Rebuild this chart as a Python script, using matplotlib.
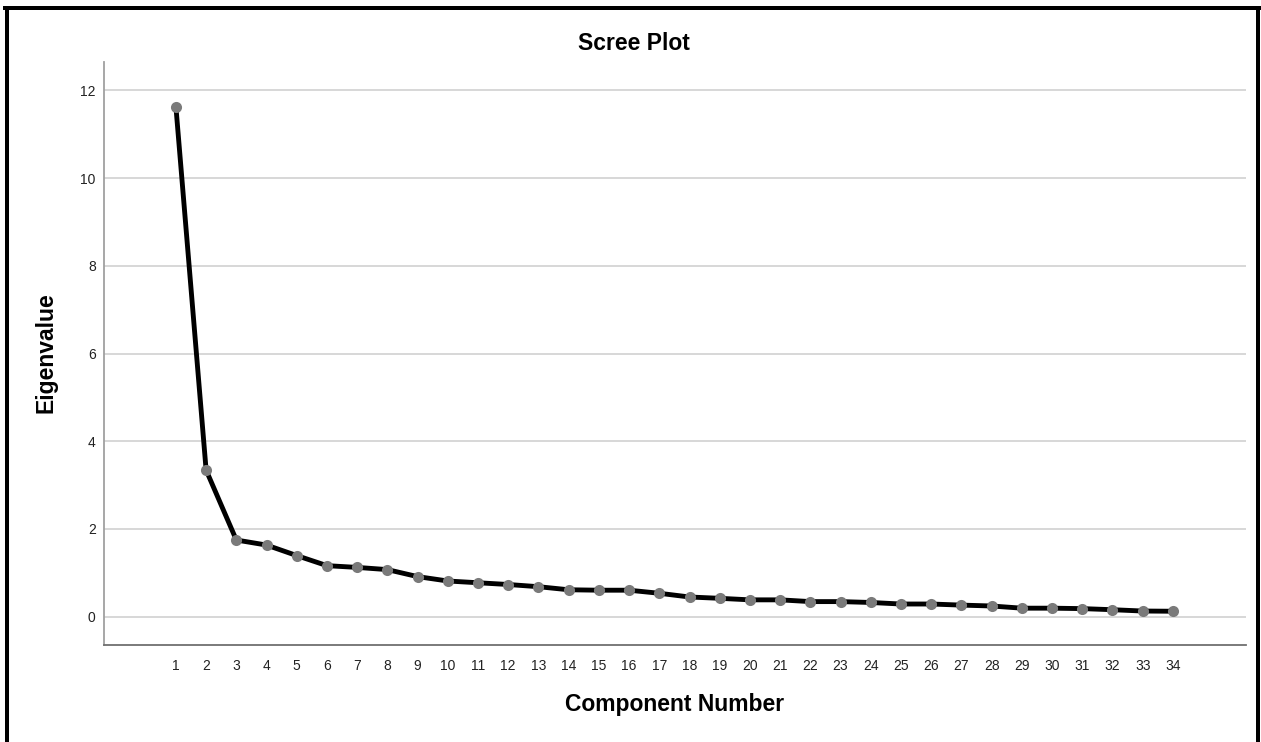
import numpy as np
import matplotlib
matplotlib.use('Agg')
import matplotlib.pyplot as plt
from matplotlib.lines import Line2D

plt.rcParams['font.family'] = ['Liberation Sans', 'DejaVu Sans']

# eigenvalues
component = list(range(1, 35))
eigenvalue = [11.63, 3.34, 1.745, 1.63, 1.39, 1.16, 1.12, 1.07, 0.91, 0.81,
              0.77, 0.73, 0.68, 0.61, 0.60, 0.60, 0.53, 0.445, 0.415, 0.38,
              0.38, 0.34, 0.34, 0.32, 0.285, 0.285, 0.26, 0.24, 0.19, 0.19,
              0.18, 0.155, 0.125, 0.12]
yticks = [0, 2, 4, 6, 8, 10, 12]

W, H = 1261, 742
fig = plt.figure(figsize=(W / 100, H / 100), dpi=100)
fig.patch.set_facecolor('white')
ax = fig.add_axes([104 / W, 1 - 645 / H, (1246 - 104) / W, (645 - 62) / H])

ax.plot(component, eigenvalue, color='black', linewidth=3.5, zorder=3)
ax.plot(component, eigenvalue, 'o', color='#7a7a7a', markersize=8,
        markeredgewidth=0, zorder=4)

ax.set_xlim(-1.38, 36.42)
ax.set_ylim(-0.65, 12.65)
ax.set_xticks(component)
ax.set_xticklabels([str(c) for c in component])
ax.set_yticks(yticks)
ax.tick_params(axis='both', length=0, labelsize=10, colors='#222222')
ax.tick_params(axis='x', pad=10)
ax.tick_params(axis='y', pad=6)

ax.grid(axis='y', color='#d4d4d4', linewidth=1.3)
ax.set_axisbelow(True)
ax.spines['top'].set_visible(False)
ax.spines['right'].set_visible(False)
ax.spines['left'].set_color('#a0a0a0')
ax.spines['left'].set_linewidth(1.3)
ax.spines['bottom'].set_color('#707070')
ax.spines['bottom'].set_linewidth(1.3)

fig.text(634 / W, 1 - 44 / H, 'Scree Plot', ha='center', va='center',
         fontsize=16.5, fontweight='bold')
fig.text(675 / W, 1 - 705 / H, 'Component Number', ha='center', va='center',
         fontsize=16.5, fontweight='bold')
fig.text(46 / W, 1 - 353 / H, 'Eigenvalue', ha='center', va='center',
         rotation=90, fontsize=16.5, fontweight='bold')

# black frame round the output (no bottom edge, it is cut off)
lw = 4 * 72 / 100
fig.add_artist(Line2D([7 / W, 7 / W], [0, 1 - 8 / H], color='black', linewidth=lw,
                      transform=fig.transFigure))
fig.add_artist(Line2D([1258 / W, 1258 / W], [0, 1 - 8 / H], color='black', linewidth=lw,
                      transform=fig.transFigure))
fig.add_artist(Line2D([5 / W, 1260 / W], [1 - 8 / H, 1 - 8 / H], color='black', linewidth=lw,
                      transform=fig.transFigure))

fig.savefig('out.png', dpi=100)
